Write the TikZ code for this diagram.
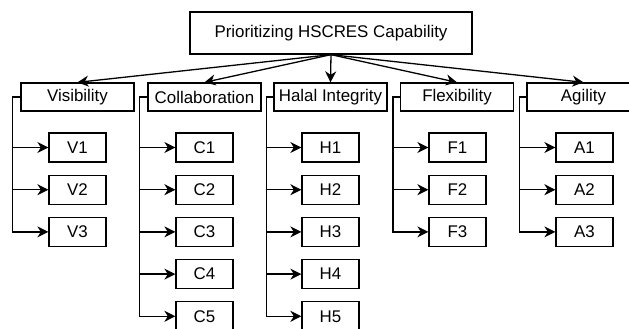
\documentclass[tikz,border=0pt]{standalone}
\usepackage{fontspec}
\setmainfont{Liberation Sans}
\usetikzlibrary{arrows.meta}
\tikzset{
  box/.style={draw, line width=1.3pt, inner sep=0pt, minimum height=28pt,
    font=\fontsize{16.9}{19}\selectfont},
  headbox/.style={box, minimum width=282pt, minimum height=42pt},
  catbox/.style={box, minimum width=113pt},
  itembox/.style={box, minimum width=57pt, minimum height=29pt},
  arr/.style={line width=1.3pt, -{Stealth[length=11pt,width=11pt,inset=3.5pt]}},
  link/.style={line width=1.3pt}
}
\begin{document}
\begin{tikzpicture}[x=1pt,y=-1pt]
      \useasboundingbox (0,0) rectangle (629,329);
      \node[headbox] (top) at (331,33) {Prioritizing HSCRES Capability};
      \node[catbox] (v) at (77.5,97) {Visibility};
      \node[catbox] (c) at (204.5,97) {Collaboration};
      \node[catbox] (h) at (330.5,97) {Halal Integrity};
      \node[catbox] (f) at (457,97) {Flexibility};
      \node[catbox] (a) at (583.5,97) {Agility};
      % items
      \node[itembox] (v1) at (77.5,147.5) {V1};
      \node[itembox] (v2) at (77.5,189.7) {V2};
      \node[itembox] (v3) at (77.5,231.9) {V3};
      \node[itembox] (c1) at (204.5,147.5) {C1};
      \node[itembox] (c2) at (204.5,189.7) {C2};
      \node[itembox] (c3) at (204.5,231.9) {C3};
      \node[itembox] (c4) at (204.5,274.1) {C4};
      \node[itembox] (c5) at (204.5,316.3) {C5};
      \node[itembox] (h1) at (330.5,147.5) {H1};
      \node[itembox] (h2) at (330.5,189.7) {H2};
      \node[itembox] (h3) at (330.5,231.9) {H3};
      \node[itembox] (h4) at (330.5,274.1) {H4};
      \node[itembox] (h5) at (330.5,316.3) {H5};
      \node[itembox] (f1) at (457.5,147.5) {F1};
      \node[itembox] (f2) at (457.5,189.7) {F2};
      \node[itembox] (f3) at (457.5,231.9) {F3};
      \node[itembox] (a1) at (584.5,147.5) {A1};
      \node[itembox] (a2) at (584.5,189.7) {A2};
      \node[itembox] (a3) at (584.5,231.9) {A3};
      \begin{scope}[arr]
        \draw (top.south) to (v.north);
        \draw (top.south) to (c.north);
        \draw (top.south) to (h.north);
        \draw (top.south) to (f.north);
        \draw (top.south) to (a.north);
        \draw (v.west) -- ++(-8,0) |- (v1.west);
        \draw (v.west) -- ++(-8,0) |- (v2.west);
        \draw (v.west) -- ++(-8,0) |- (v3.west);
        \draw (c.west) -- ++(-8,0) |- (c1.west);
        \draw (c.west) -- ++(-8,0) |- (c2.west);
        \draw (c.west) -- ++(-8,0) |- (c3.west);
        \draw (c.west) -- ++(-8,0) |- (c4.west);
        \draw (c.west) -- ++(-8,0) |- (c5.west);
        \draw (h.west) -- ++(-7,0) |- (h1.west);
        \draw (h.west) -- ++(-7,0) |- (h2.west);
        \draw (h.west) -- ++(-7,0) |- (h3.west);
        \draw (h.west) -- ++(-7,0) |- (h4.west);
        \draw (h.west) -- ++(-7,0) |- (h5.west);
        \draw (f.west) -- ++(-7,0) |- (f1.west);
        \draw (f.west) -- ++(-7,0) |- (f2.west);
        \draw (f.west) -- ++(-7,0) |- (f3.west);
        \draw (a.west) -- ++(-7,0) |- (a1.west);
        \draw (a.west) -- ++(-7,0) |- (a2.west);
        \draw (a.west) -- ++(-7,0) |- (a3.west);
      \end{scope}
    \end{tikzpicture}
\end{document}
